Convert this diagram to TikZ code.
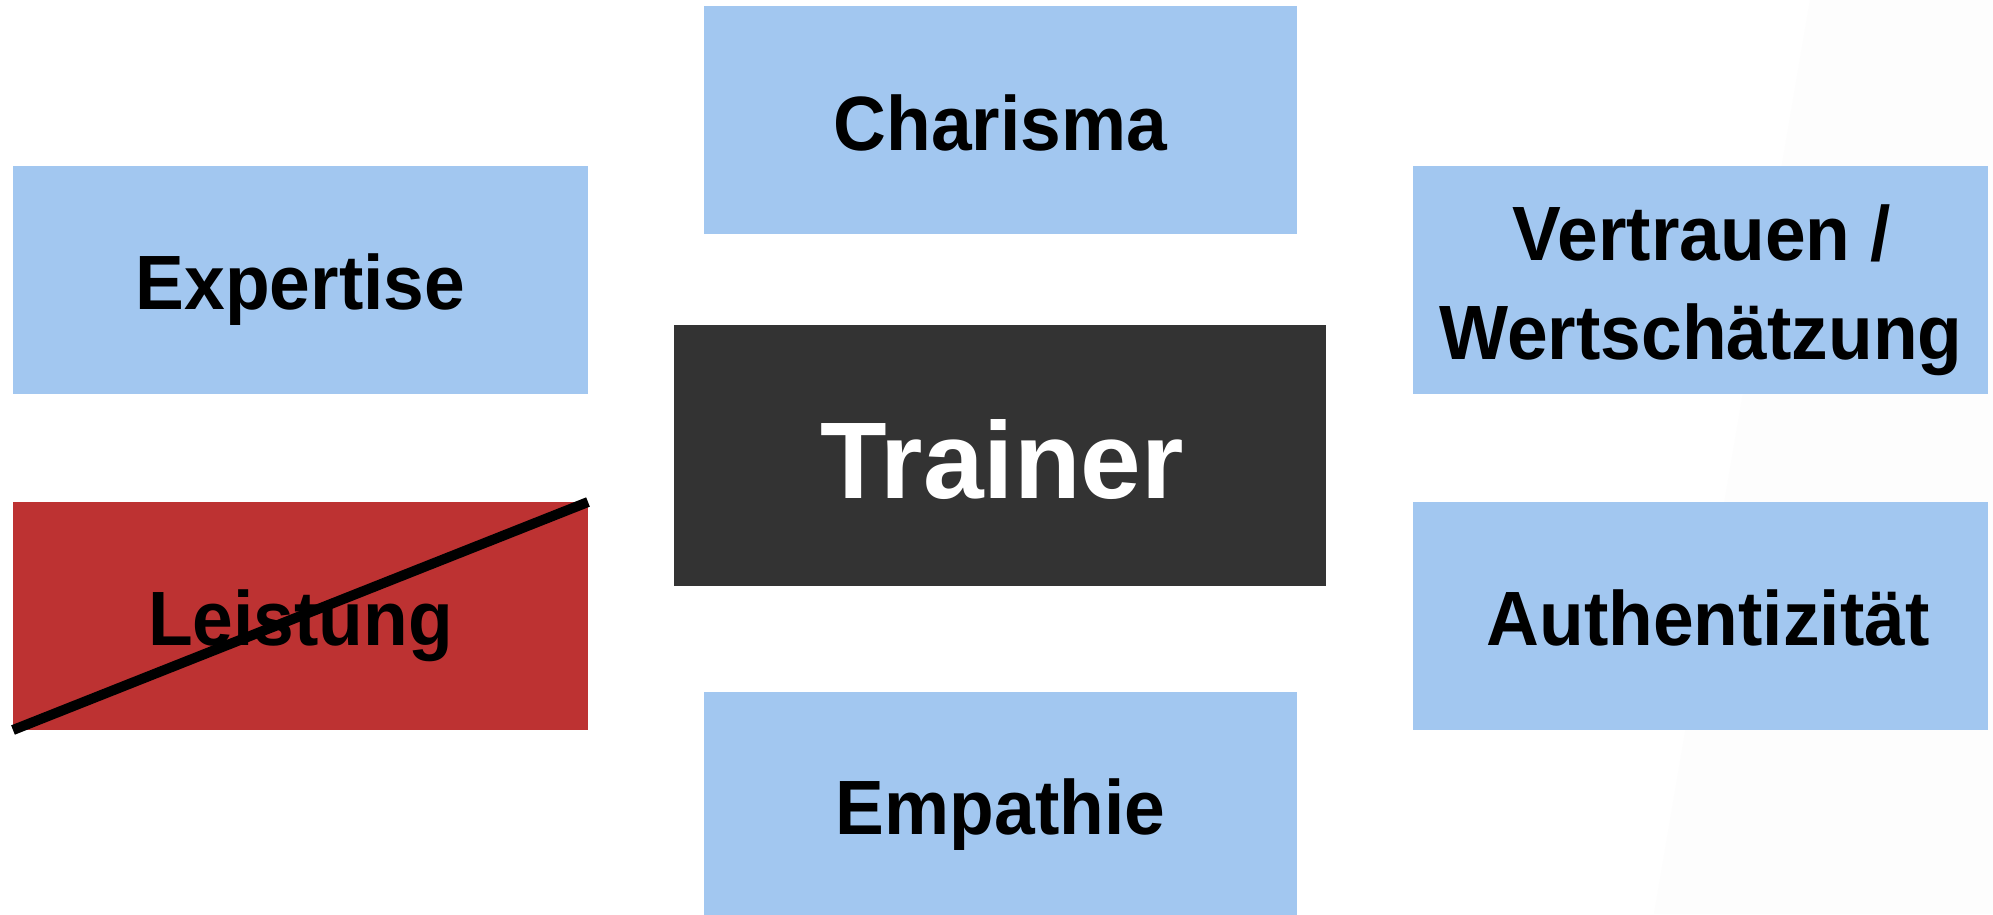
\documentclass[tikz,border=0pt]{standalone}
\usepackage{fontspec}
\setmainfont{Liberation Sans}[FakeStretch=0.95]
\newfontfamily\titlefont{Liberation Sans}
\definecolor{boxblue}{RGB}{162,199,240}
\definecolor{boxred}{RGB}{189,50,50}
\definecolor{boxdark}{RGB}{51,51,51}
\definecolor{haze}{RGB}{253,253,253}
\begin{document}
\begin{tikzpicture}[x=1pt,y=-1pt,
  card/.style={rectangle,inner sep=0pt,outer sep=0pt,draw=none,
               minimum width=575pt,minimum height=228pt},
  wide/.style={card,minimum width=593pt},
  word/.style={anchor=base,inner sep=0pt,text=black,
               font=\fontsize{77}{99}\selectfont\bfseries},
  bigword/.style={anchor=base,inner sep=0pt,text=white,
               font=\titlefont\fontsize{109}{120}\selectfont\bfseries}]
  \useasboundingbox (0,0) rectangle (1993,914);
  \clip (0,0) rectangle (1993,914);
  \fill[white] (0,0) rectangle (1993,914);
  % faint light band on the right
  \fill[haze] (1810,0) -- (1993,0) -- (1993,914) -- (1654,914) -- cycle;

  % boxes
  \node[wide, fill=boxblue] (charisma) at (1000.5,120) {};
  \node[card, fill=boxblue] (expertise) at (300.5,280) {};
  \node[card, fill=boxblue] (vertrauen) at (1700.5,280) {};
  \node[card, fill=boxdark, minimum width=652pt, minimum height=261pt] (trainer) at (1000,455.5) {};
  \node[card, fill=boxred] (leistung) at (300.5,616) {};
  \node[card, fill=boxblue] (authent) at (1700.5,616) {};
  \node[wide, fill=boxblue] (empathie) at (1000.5,806) {};

  % labels
  \node[word] (tcharisma) at (1000.5,150) {Charisma};
  \node[word] (texpertise) at (300.5,309) {Expertise};
  \node[word] (tvertrauen) at (1702,260) {Vertrauen /};
  \node[word] (twert) at (1701,359) {Wertschätzung};
  \node[bigword] (ttrainer) at (1002,498) {Trainer};
  \node[word] (tleistung) at (300.5,645) {Leistung};
  \node[word] (tauthent) at (1708,645) {Authentizität};
  \node[word] (tempathie) at (1000.5,834) {Empathie};

  % strike-through across the red box
  \draw[line width=10pt, black] (leistung.south west) -- (leistung.north east);
\end{tikzpicture}
\end{document}
